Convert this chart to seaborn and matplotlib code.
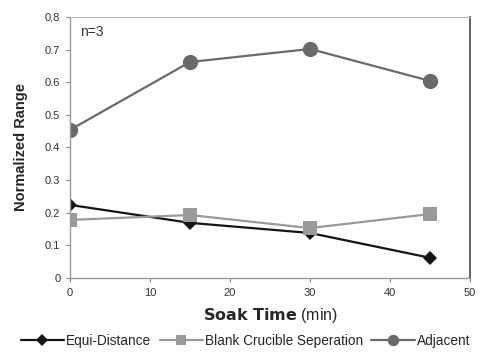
import pandas as pd
import seaborn as sns
import matplotlib
matplotlib.use('Agg')
import matplotlib.pyplot as plt

# data
soak_time = [0, 15, 30, 45]
equi_distance = [0.224, 0.169, 0.138, 0.062]
blank_crucible = [0.178, 0.193, 0.153, 0.196]
adjacent = [0.454, 0.662, 0.702, 0.604]
series_names = ["Equi-Distance", "Blank Crucible Seperation", "Adjacent"]

df = pd.DataFrame({
    "Soak Time": soak_time * 3,
    "Normalized Range": equi_distance + blank_crucible + adjacent,
    "Series": [series_names[0]] * 4 + [series_names[1]] * 4 + [series_names[2]] * 4,
})

sns.set_style("white")
plt.rcParams['font.family'] = ['Liberation Sans', 'DejaVu Sans']

fig = plt.figure(figsize=(4.91, 3.54), dpi=100)
ax = fig.add_axes([0.1426, 0.2147, 0.8146, 0.7373])

palette = {series_names[0]: "#151515", series_names[1]: "#9a9a9a", series_names[2]: "#6a6a6a"}
markers = {series_names[0]: "D", series_names[1]: "s", series_names[2]: "o"}
sizes = {series_names[0]: 7.5, series_names[1]: 10, series_names[2]: 11}

for name in series_names:
    sub = df[df["Series"] == name]
    sns.lineplot(data=sub, x="Soak Time", y="Normalized Range", ax=ax,
                 color=palette[name], marker=markers[name], markersize=sizes[name],
                 markeredgewidth=0, linewidth=1.6, label=name)

ax.set_xlim(0, 50)
ax.set_ylim(0, 0.8)
ax.set_xticks(range(0, 51, 10))
ax.set_yticks([i / 10 for i in range(9)])
ax.set_yticklabels(["0"] + [f"0,{i}" if i == 8 else f"0.{i}" for i in range(1, 9)])
ax.tick_params(axis='both', labelsize=8, length=3, direction='out',
               left=True, bottom=True, pad=4, colors="#888888", labelcolor="#333333")

for side in ["left", "bottom"]:
    ax.spines[side].set_color("#999999")
    ax.spines[side].set_linewidth(1)
ax.spines["top"].set_color("#bbbbbb")
ax.spines["right"].set_color("#555555")
ax.spines["right"].set_linewidth(1.3)

ax.set_ylabel("Normalized Range", fontsize=10.5, fontweight='bold', labelpad=12)
ax.set_xlabel(r"$\bf{Soak\ Time}$ (min)", fontsize=11.5, labelpad=6)

ax.text(1.3, 0.755, "n=3", fontsize=10, color="#333333", va='center')

handles, labels = ax.get_legend_handles_labels()
ax.get_legend().remove()
fig.legend(handles, labels, loc='center', bbox_to_anchor=(0.5, 0.038), ncol=3, frameon=False,
           fontsize=9.8, handlelength=3.2, columnspacing=0.6, handletextpad=0.15,
           borderaxespad=0, markerscale=0.75)

fig.savefig("out.png", dpi=100)
